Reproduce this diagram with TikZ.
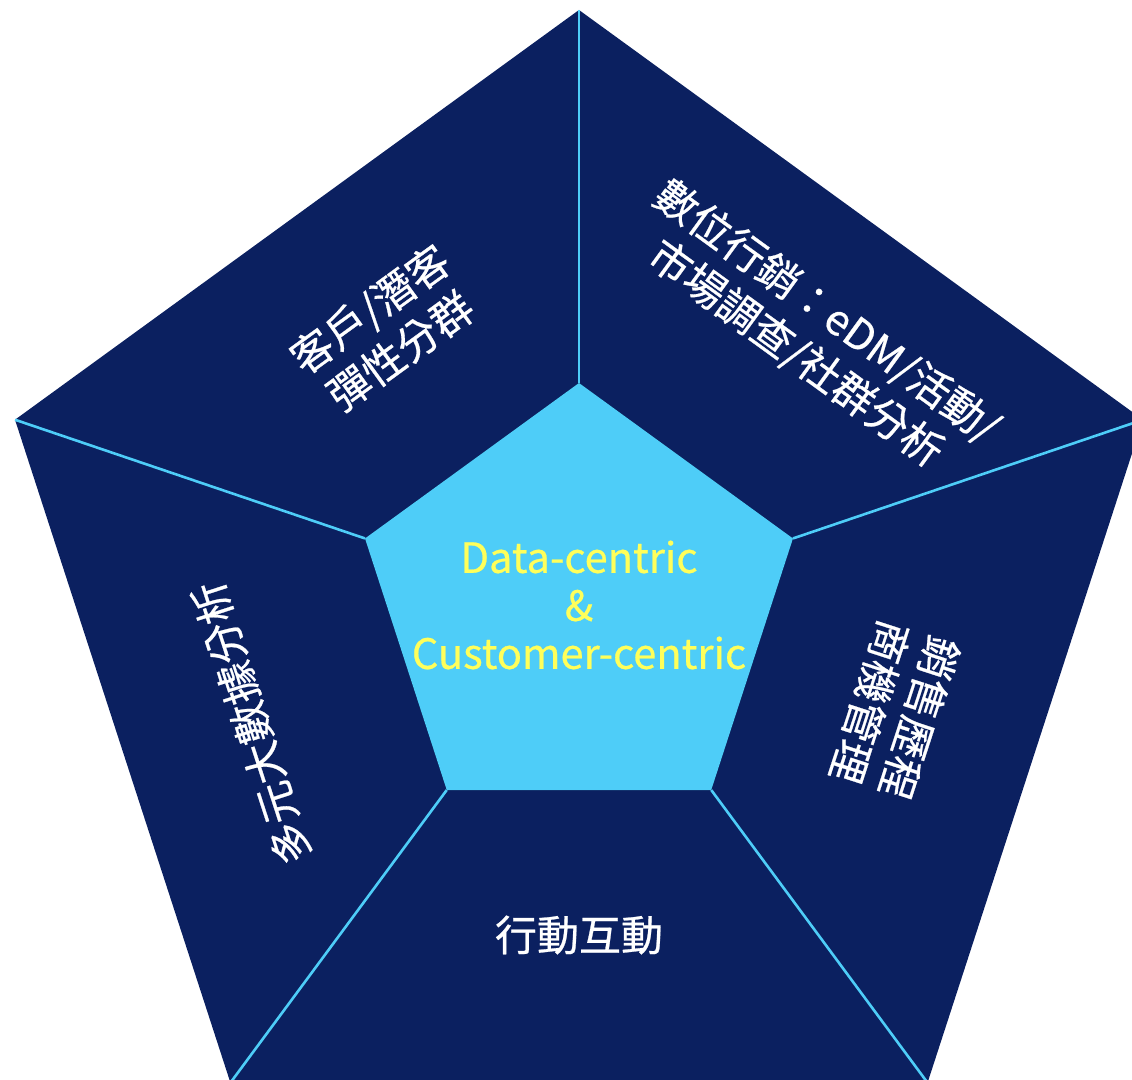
\documentclass[tikz,border=0pt]{standalone}
\usepackage{fontspec}
\setmainfont{Noto Sans CJK TC}[FakeBold=0.6]
\usetikzlibrary{calc}

\definecolor{navy}{RGB}{11,32,96}
\definecolor{skyblue}{RGB}{78,205,248}
\definecolor{lemon}{RGB}{255,255,90}

\tikzset{
  segtext/.style={text=white, font=\fontsize{21}{26}\selectfont, align=center, inner sep=0pt},
  hubtext/.style={text=lemon, font=\fontsize{20.8}{24}\selectfont, align=center, inner sep=0pt},
  spoke/.style={skyblue, line width=1.3pt}
}

\begin{document}
\begin{tikzpicture}[x=0.5pt, y=0.5pt]
  \useasboundingbox (-579,-477) rectangle (553,603);
  \clip (-579,-477) rectangle (553,603);

  % corners of the two pentagons
  \foreach \k in {1,...,5} {
    \coordinate (o\k) at ({18+72*\k}:593);
    \coordinate (i\k) at ($(0,-5)+({18+72*\k}:225)$);
  }

  \fill[navy] (o1) -- (o2) -- (o3) -- (o4) -- (o5) -- cycle;
  \foreach \k in {1,...,5}
    \draw[spoke] (i\k) -- (o\k);
  \fill[black, opacity=0.35, yshift=-1.5pt] (i1) -- (i2) -- (i3) -- (i4) -- (i5) -- cycle;
  \fill[skyblue] (i1) -- (i2) -- (i3) -- (i4) -- (i5) -- cycle;

  % labels
  \node[segtext, rotate=36] (clients) at (-194,273) {客戶/潛客\\彈性分群};
  \node[segtext, rotate=-36] (marketing) at (232,270) {數位行銷：eDM/活動/\\市場調查/社群分析};
  \node[segtext, rotate=-108] (sales) at (316,-107) {銷售歷程\\商機管理};
  \node[segtext] (mobile) at (0,-332) {行動互動};
  \node[segtext, rotate=108] (bigdata) at (-328,-120) {多元大數據分析};
  \node[hubtext] (hub) at (0,-2) {Data-centric\\\&\\Customer-centric};
\end{tikzpicture}
\end{document}
